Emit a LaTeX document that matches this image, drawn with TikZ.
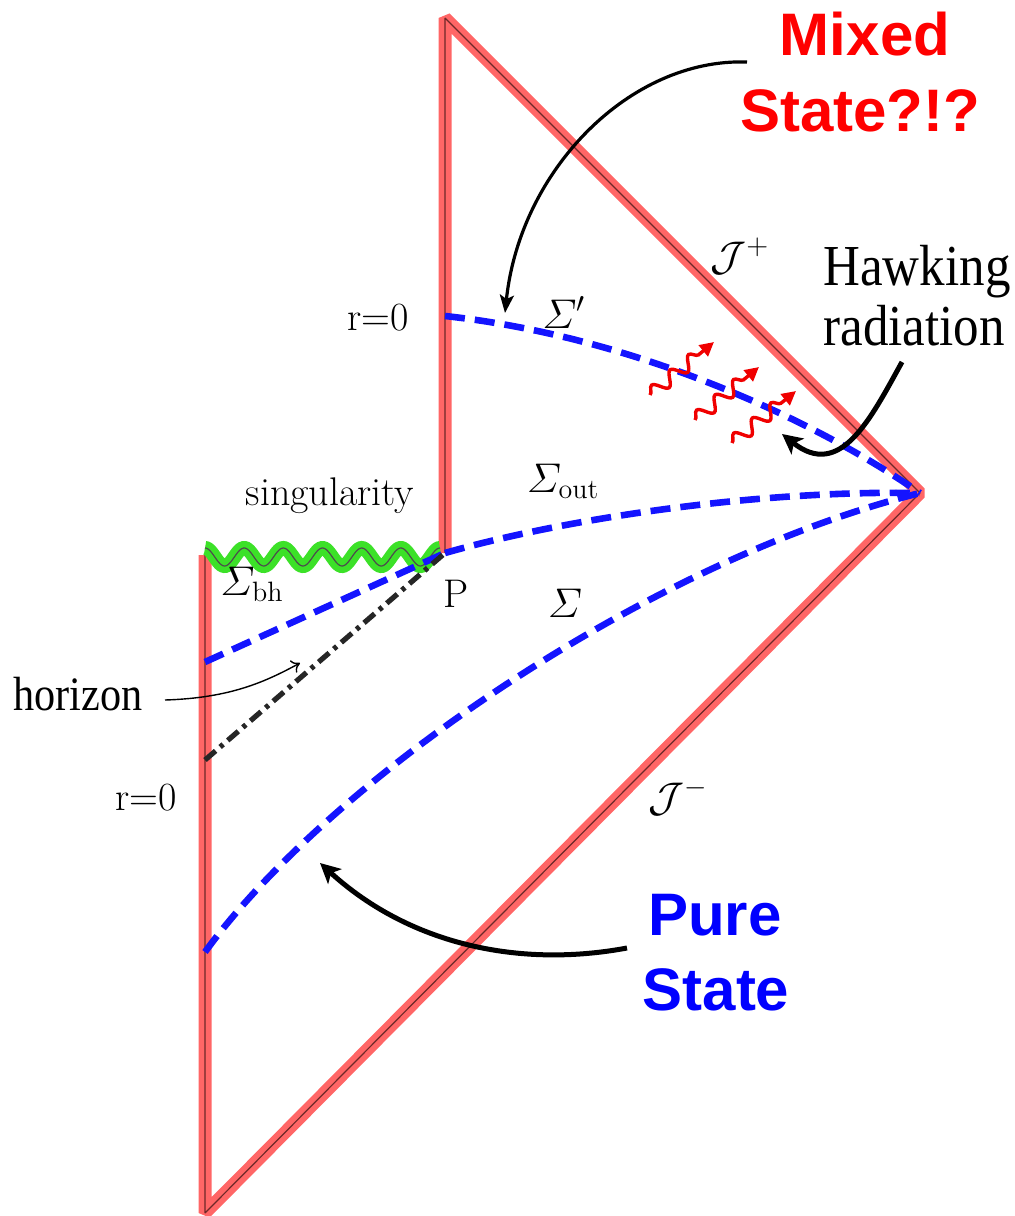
\documentclass[tikz,border=0pt]{standalone}
\usepackage{amsmath}
\usepackage{fontspec}
\newfontfamily\arialfam{Liberation Sans}
\newfontfamily\garafam{Liberation Serif}[FakeStretch=0.88]
\usetikzlibrary{arrows.meta,decorations.pathmorphing}
\definecolor{edgered}{RGB}{255,102,102}
\definecolor{edgecore}{RGB}{110,40,40}
\definecolor{singgreen}{RGB}{60,225,40}
\definecolor{sliceblue}{RGB}{20,20,255}
\definecolor{quantred}{RGB}{240,0,0}
\begin{document}
\begin{tikzpicture}[x=0.5pt,y=-0.5pt,
  boundary/.style={draw=edgecore,line width=0.6pt,line join=bevel,
    preaction={draw=edgered,line width=6.5pt,line join=bevel}},
  singline/.style={draw=black!70,line width=0.6pt,
    preaction={draw=singgreen,line width=7pt}},
  slice/.style={draw=sliceblue,line width=3.3pt,dash pattern=on 10pt off 5pt},
  horizonline/.style={draw=black!85,line width=2.6pt,dash pattern=on 7pt off 3pt on 2pt off 3pt},
  bigarrow/.style={draw=black,line width=2.5pt,-{Stealth[length=10pt,width=10pt,inset=2.5pt]}},
  midarrow/.style={draw=black,line width=1.6pt,-{Stealth[length=9pt,width=7pt,inset=2pt]}},
  thinarrow/.style={draw=black,line width=0.7pt,-{To[length=4pt,width=7pt]}},
  quantum/.style={draw=quantred,line width=1.7pt,
    decorate,decoration={snake,amplitude=3.3pt,segment length=12pt,post length=6pt},
    -{Triangle[length=7pt,width=7pt]}},
  cmlab/.style={font=\fontsize{20}{24}\selectfont,inner sep=0pt},
  garalab/.style={font=\garafam\fontsize{29}{30}\selectfont,inner sep=0pt},
  bigred/.style={font=\arialfam\bfseries\fontsize{30}{38}\selectfont,text=red,align=center,inner sep=0pt},
  bigblue/.style={font=\arialfam\bfseries\fontsize{30}{37.5}\selectfont,text=blue,align=center,inner sep=0pt}
]
\useasboundingbox (0,0) rectangle (1015,1216);

% key points
\coordinate (P) at (445,553);
\coordinate (top) at (445,18);
\coordinate (io) at (920,493);
\coordinate (bot) at (205,1213);
\coordinate (sl) at (205,555);
\coordinate (rz1) at (445,316);
\coordinate (bh0) at (205,662);
\coordinate (hz0) at (205,760);
\coordinate (s0) at (205,952);

% boundary of the Penrose diagram
\draw[boundary] (P) -- (top) -- (io) -- (bot) -- (sl);

% singularity
\draw[singline] plot[domain=0:235,samples=160,smooth] ({205+\x},{557-9*cos(\x*9.1907)});

% Cauchy slices
\draw[slice] (rz1) .. controls (620,335) and (800,410) .. (io);
\draw[slice] (P) .. controls (560,520) and (750,490) .. (io);
\draw[slice] (bh0) -- (P);
\draw[slice] (s0) .. controls (330,780) and (650,560) .. (io);

% horizon
\draw[horizonline] (hz0) -- (P);

% Hawking quanta
\coordinate (qa0) at (650,395); \coordinate (qa1) at (714,342);
\coordinate (qb0) at (695,420); \coordinate (qb1) at (759,367);
\coordinate (qc0) at (732,443); \coordinate (qc1) at (796,391);
\draw[quantum] (qa0) -- (qa1);
\draw[quantum] (qb0) -- (qb1);
\draw[quantum] (qc0) -- (qc1);

% labels
\node[cmlab,anchor=base] (rzA) at (378,330) {r=0};
\node[cmlab,anchor=base] (rzB) at (146,810) {r=0};
\node[cmlab,anchor=base] (sing) at (330,505) {singularity};
\node[cmlab,anchor=base] (Plab) at (456,607) {P};
\node[cmlab,anchor=base] (sbh) at (252,595) {$\varSigma_{\mathrm{bh}}$};
\node[cmlab,anchor=base] (sprime) at (564,328) {$\varSigma'$};
\node[cmlab,anchor=base] (sout) at (563,492) {$\varSigma_{\mathrm{out}}$};
\node[cmlab,anchor=base] (sig) at (565,617) {$\varSigma$};
\node[cmlab,anchor=base] (jplus) at (740,270) {$\mathcal{J}^+$};
\node[cmlab,anchor=base] (jminus) at (678,811) {$\mathcal{J}^-$};

\node[garalab,anchor=base west] (hawk1) at (823,285) {Hawking};
\node[garalab,anchor=base west] (hawk2) at (823,345) {radiation};
\node[font=\garafam\fontsize{24}{27}\selectfont,inner sep=0pt,anchor=base west] (hor) at (13,710) {horizon};

\node[bigred,anchor=base] (mix1) at (865,55) {Mixed};
\node[bigred,anchor=base] (mix2) at (860,131) {State?!?};
\node[bigblue,anchor=base] (pure1) at (715,935) {Pure};
\node[bigblue,anchor=base] (pure2) at (716,1010) {State};

% arrows
\coordinate (mixtail) at (747,62);
\coordinate (mixtip) at (505,313);
\draw[midarrow] (mixtail) .. controls (630,58) and (520,170) .. (mixtip);
\coordinate (puretail) at (627,948);
\coordinate (puretip) at (320,863);
\draw[bigarrow] (puretail) .. controls (520,968) and (410,945) .. (puretip);
\coordinate (hawktail) at (902,362);
\coordinate (hawktip) at (782,434);
\draw[bigarrow] (hawktail) .. controls (870,420) and (840,480) .. (hawktip);
\coordinate (hortail) at (165,700);
\coordinate (hortip) at (300,663);
\draw[thinarrow] (hortail) .. controls (230,698) and (265,682) .. (hortip);
\end{tikzpicture}
\end{document}
